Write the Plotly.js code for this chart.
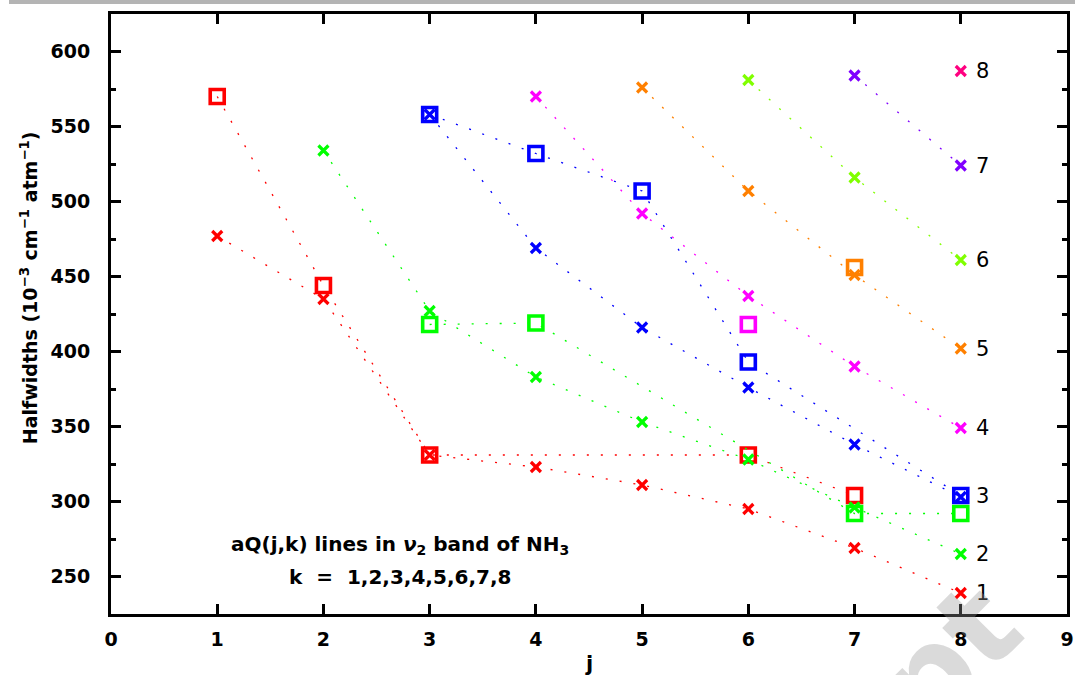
<!DOCTYPE html>
<html>
<head>
<meta charset="utf-8">
<script src="https://cdn.plot.ly/plotly-3.0.1.min.js"></script>
<style>html,body{margin:0;padding:0;background:#fff;}#chart{width:1075px;height:675px;}</style>
</head>
<body>
<div id="chart"></div>
<script>
// k values and colours
var kValues = [1, 2, 3, 4, 5, 6, 7, 8];
var kColors = ['#ff0000', '#00ff00', '#0000ff', '#ff00ff', '#ff8000', '#80ff00', '#8000ff', '#ff0080'];

// crosses (x markers) : j and halfwidth for each k
var crossJ_k1 = [1, 2, 3, 4, 5, 6, 7, 8];
var crossY_k1 = [477, 435, 331, 323, 311, 295, 269, 239];
var crossJ_k2 = [2, 3, 4, 5, 6, 7, 8];
var crossY_k2 = [534, 427, 383, 353, 328, 296, 265];
var crossJ_k3 = [3, 4, 5, 6, 7, 8];
var crossY_k3 = [558, 469, 416, 376, 338, 303];
var crossJ_k4 = [4, 5, 6, 7, 8];
var crossY_k4 = [570, 492, 437, 390, 349];
var crossJ_k5 = [5, 6, 7, 8];
var crossY_k5 = [576, 507, 451, 402];
var crossJ_k6 = [6, 7, 8];
var crossY_k6 = [581, 516, 461];
var crossJ_k7 = [7, 8];
var crossY_k7 = [584, 524];
var crossJ_k8 = [8];
var crossY_k8 = [587];

// squares (open square markers)
var squareJ_k1 = [1, 2, 3, 6, 7];
var squareY_k1 = [570, 444, 331, 331, 304];
var squareJ_k2 = [3, 4, 7, 8];
var squareY_k2 = [418, 419, 292, 292];
var squareJ_k3 = [3, 4, 5, 6, 8];
var squareY_k3 = [558, 532, 507, 393, 304];
var squareJ_k4 = [6];
var squareY_k4 = [418];
var squareJ_k5 = [7];
var squareY_k5 = [456];

// right-hand k labels: y position for each k label (at j = 8)
var labelY = [239, 265, 304, 349, 402, 461, 524, 587];

var crossJ = [crossJ_k1, crossJ_k2, crossJ_k3, crossJ_k4, crossJ_k5, crossJ_k6, crossJ_k7, crossJ_k8];
var crossY = [crossY_k1, crossY_k2, crossY_k3, crossY_k4, crossY_k5, crossY_k6, crossY_k7, crossY_k8];
var squareJ = [squareJ_k1, squareJ_k2, squareJ_k3, squareJ_k4, squareJ_k5];
var squareY = [squareY_k1, squareY_k2, squareY_k3, squareY_k4, squareY_k5];

var FONT = 'DejaVu Sans, sans-serif';
var DOT = '2px,12px';

var traces = [];
for (var i = 0; i < squareJ.length; i++) {
  traces.push({
    x: squareJ[i], y: squareY[i], type: 'scatter', mode: 'lines+markers',
    line: {color: kColors[i], width: 1.3, dash: DOT},
    marker: {symbol: 'square-open', size: 14, color: kColors[i], line: {width: 3.6, color: kColors[i]}},
    showlegend: false, hoverinfo: 'x+y'
  });
}
for (var i = 0; i < crossJ.length; i++) {
  traces.push({
    x: crossJ[i], y: crossY[i], type: 'scatter', mode: 'lines+markers',
    line: {color: kColors[i], width: 1.3, dash: DOT},
    marker: {symbol: 'x-thin-open', size: 10, color: kColors[i], line: {width: 3.2, color: kColors[i]}},
    showlegend: false, hoverinfo: 'x+y'
  });
}

var annotations = [];
for (var i = 0; i < kValues.length; i++) {
  annotations.push({
    x: 8, y: labelY[i], xref: 'x', yref: 'y', text: String(kValues[i]),
    showarrow: false, xanchor: 'left', yanchor: 'middle', xshift: 13,
    font: {family: FONT, size: 21, color: '#000'}
  });
}
annotations.push({
  x: 2.72, y: 271, xref: 'x', yref: 'y',
  text: 'aQ(j,k) lines in <i>ν</i><sub>2</sub> band of NH<sub>3</sub>',
  showarrow: false, xanchor: 'center', yanchor: 'middle',
  font: {family: FONT, size: 20, color: '#000', weight: 'bold'}
});
annotations.push({
  x: 2.72, y: 250, xref: 'x', yref: 'y',
  text: 'k  =  1,2,3,4,5,6,7,8',
  showarrow: false, xanchor: 'center', yanchor: 'middle',
  font: {family: FONT, size: 20, color: '#000', weight: 'bold'}
});
annotations.push({
  x: -0.0857, y: 0.543, xref: 'paper', yref: 'paper',
  text: 'Halfwidths (10<sup>−3</sup> cm<sup>−1</sup> atm<sup>−1</sup>)',
  showarrow: false, textangle: -90, xanchor: 'center', yanchor: 'middle',
  font: {family: FONT, size: 19, color: '#000', weight: 'bold'}
});
annotations.push({
  x: 0.5, y: -0.083, xref: 'paper', yref: 'paper', text: 'j',
  showarrow: false, xanchor: 'center', yanchor: 'middle',
  font: {family: FONT, size: 21, color: '#000', weight: 'bold'}
});
// watermark fragment
annotations.push({
  x: 0.875, y: -0.07, xref: 'paper', yref: 'paper', text: 'pt',
  showarrow: false, textangle: -45, xanchor: 'center', yanchor: 'middle',
  font: {family: FONT, size: 120, color: 'rgba(150,150,150,0.35)', weight: 'bold'}
});

var layout = {
  width: 1075, height: 675,
  margin: {l: 111, r: 8, t: 14, b: 61, pad: 0},
  paper_bgcolor: '#fff', plot_bgcolor: '#fff',
  showlegend: false,
  xaxis: {
    range: [0, 9], tick0: 0, dtick: 1, showgrid: false, zeroline: false,
    showline: true, linewidth: 3, linecolor: '#000', mirror: 'ticks',
    ticks: 'inside', ticklen: 10, tickwidth: 3, tickcolor: '#000',
    ticklabelstandoff: 6,
    tickfont: {family: FONT, size: 19, color: '#000', weight: 'bold'}
  },
  yaxis: {
    range: [225, 625], tick0: 0, dtick: 50, showgrid: false, zeroline: false,
    showline: true, linewidth: 3, linecolor: '#000', mirror: 'ticks',
    ticks: 'inside', ticklen: 10, tickwidth: 3, tickcolor: '#000',
    ticklabelstandoff: 14,
    minor: {dtick: 25, ticks: 'inside', ticklen: 5, tickwidth: 3, tickcolor: '#000', showgrid: false},
    tickfont: {family: FONT, size: 19, color: '#000', weight: 'bold'}
  },
  shapes: [{
    type: 'rect', xref: 'paper', yref: 'paper',
    x0: (9 - 111) / 956, x1: (1075 - 111) / 956, y0: (614 - 4) / 600, y1: (614 + 2) / 600,
    fillcolor: '#b4b4b4', line: {width: 0}, layer: 'above'
  }],
  annotations: annotations
};

Plotly.newPlot('chart', traces, layout, {staticPlot: true, displayModeBar: false});
</script>
</body>
</html>
